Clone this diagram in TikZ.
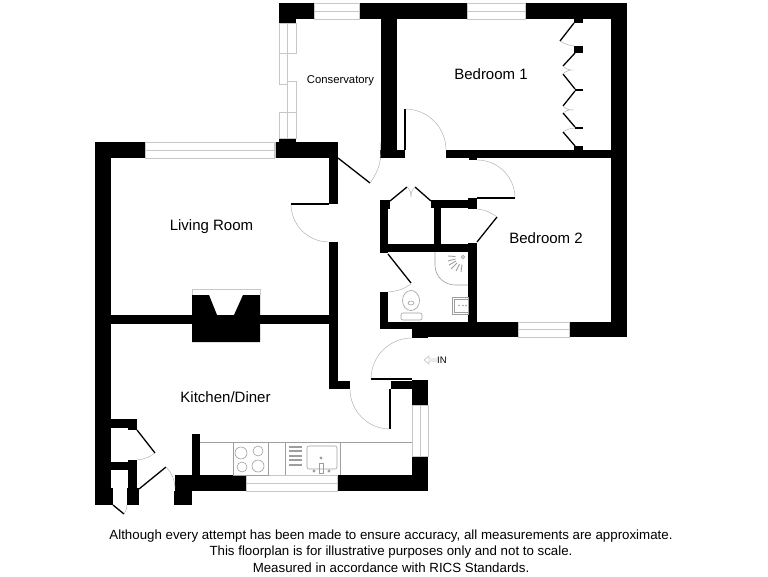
\documentclass[tikz,border=0pt]{standalone}
\usepackage{fontspec}
\setmainfont{Liberation Sans}
\tikzset{
  wall/.style={fill=black,draw=none},
  leaf/.style={line width=1.3pt,color=black},
  swing/.style={line width=0.4pt,color=black!35},
  glaze/.style={line width=0.6pt,color=black!22},
  fitting/.style={line width=0.6pt,color=black!38},
  room/.style={inner sep=0pt,font=\fontsize{15}{18}\selectfont},
  small/.style={inner sep=0pt,font=\fontsize{11.3}{14}\selectfont},
  notes/.style={inner sep=0pt,font=\fontsize{13.3}{16}\selectfont}
}
\begin{document}
\begin{tikzpicture}[x=1pt,y=-1pt]
\useasboundingbox (0,0) rectangle (768,576);
% walls, as x1/y1/x2/y2
\foreach \xa/\ya/\xb/\yb in {279/3/314/19,279/19/296/23,359.5/3/467/19,525/3/627/19,611/19/627/337,
  381/19/397/158,380/150/405/158,446/150/611/158,469/158/477/160,469/198/477/200,
  574/19/583/23,574/46/583/53,575/89/583/91,575/127/583/129,574/146/583/150,
  279/138/296/142,95/142/145/158,274/142/338/158,95/158/111/505,329/158/338/204,329/242/338/389,
  111/315/329/324,329/381/350/389,391/381/412/389,412/380/428/405,412/456/428/491,
  337/475/412/491,175/475/246/491,174/491/192/505,192/434/200/475,
  111/419/137/428,128/428/137/430,128/460/137/462,111/462/137/470,128/470/137/488,127/488/139/505,95/488/113/505,
  380/200/388/253,380/200/390/209,431/200/477/208,468/198/477/209,434/208/441/244,380/244/477/252,
  468/243/477/329,380/292/388/329,380/322/518/329,412/329/518/337,412/337/428/338,569/322/627/337}
  \fill[wall] (\xa,\yb) rectangle (\xb,\ya);
% chimney breast
\fill[wall] (192,295) -- (209,295) -- (217,315) -- (234,315) -- (243,295) -- (260,295) -- (260,342) -- (192,342) -- cycle;
\draw[glaze] (192,295) -- (192,289) -- (260,289) -- (260,295);
% windows, x1/y1/x2/y2
\foreach \xa/\ya/\xb/\yb in {314/3/359.5/19,467/3/525/19,145/142/274/158,246/475/337/491,518/322/569/337}{
  \draw[glaze] (\xa,\ya) rectangle (\xb,\yb);
  \draw[glaze] (\xa,{(\ya+\yb)/2}) -- (\xb,{(\ya+\yb)/2});
}
\draw[glaze] (412,405) rectangle (428,456);
\draw[glaze] (420,405) -- (420,456);
% conservatory side glazing
\draw[glaze] (279,23) rectangle (296,53);
\draw[glaze] (287,23) -- (287,53);
\draw[glaze] (279,53) rectangle (287,84);
\draw[glaze] (287,81) rectangle (296,112);
\draw[glaze] (279,112) rectangle (296,138);
\draw[glaze] (287,112) -- (287,138);
\draw[glaze] (275,142) -- (275,158);
% door leaves
\foreach \xa/\ya/\xb/\yb in {405/109/405/150,477/198/515/198,291/204/329/204,390/389/390/429,371/379/412/379,
  338/158/370/183,390/201/407/187,415/187/431/201,388/254/411/283,477/242/497/217,
  137/430/155/453,139/489/166/467,113/505/124/514,
  574/23/560/41,575/53/563/66,563/74/575/89,575/91/563/106,563/113/575/127,563/132/575/146}
  \draw[leaf] (\xa,\ya) -- (\xb,\yb);
% door swings
\draw[swing] (405,109) arc[start angle=-90,end angle=0,radius=41];
\draw[swing] (477,160) arc[start angle=-90,end angle=0,radius=38];
\draw[swing] (291,204) arc[start angle=180,end angle=90,radius=38];
\draw[swing] (350,389) arc[start angle=180,end angle=90,radius=40];
\draw[swing] (371,379) arc[start angle=180,end angle=270,radius=41];
\draw[swing] (370,183) to[bend right=22] (380,142);
\draw[swing] (497,217) to[bend right=15] (477,209);
\draw[swing] (411,284) to[bend left=15] (388,292);
\draw[swing] (155,453) to[bend left=15] (137,460);
\draw[swing] (166,467) to[bend left=20] (175,488);
\draw[swing] (124,514) to[bend right=15] (127,505);
\draw[swing] (407,187) to[bend left=25] (411,197);
\draw[swing] (415,187) to[bend right=25] (411,197);
\draw[swing] (560,41) to[bend right=12] (574,46);
\draw[swing] (563,66) to[bend right=25] (574,70) to[bend right=25] (563,74);
\draw[swing] (563,106) to[bend right=25] (574,110) to[bend right=25] (563,113);
\draw[swing] (563,132) to[bend left=15] (575,128);
% kitchen units
\draw[fitting] (200,442) -- (412,442);
\draw[fitting] (233,442) rectangle (268,475);
\draw[fitting] (285,442) -- (285,475);
\draw[fitting] (340,442) -- (340,475);
\foreach \xc/\yc/\rc in {241/453/6,258/451/5,242/467/5,258/466/6}
  \draw[fitting] (\xc,\yc) circle (\rc);
\foreach \yc in {447,451,456,460,465}
  \draw[fitting,line width=1.2pt] (289,\yc) -- (302,\yc);
\draw[fitting,rounded corners=2pt] (307,446) rectangle (337,469);
\draw[fitting] (319,463) rectangle (323,473);
\foreach \xc/\yc in {321/458,314/471,329/471}
  \fill[black!38] (\xc,\yc) circle (1.6);
% bathroom fittings
\draw[fitting] (435,252) -- (435,265) .. controls (435,278) and (446,285) .. (455,285) -- (468,285);
\foreach \xc/\yc in {448/256,448/261,449/265,451/269,456/271,461/272}
  \draw[fitting,line width=0.9pt] ({(\xc+463)/2},{(\yc+257)/2}) -- (\xc,\yc);
\draw[fitting] (463,257) circle (1.6);
\draw[fitting] (411,300.5) ellipse (8.5 and 10);
\draw[fitting] (411,303) ellipse (3 and 2);
\draw[fitting,rounded corners=2pt] (401,313) rectangle (422,320);
\draw[fitting] (452,297) rectangle (468,314);
\draw[fitting] (454,299) rectangle (468,312);
\foreach \xc in {459,463,466}
  \fill[black!38] (\xc,305.5) circle (0.9);
% entrance arrow
\draw[glaze,line width=0.7pt] (437,359) -- (429,359) -- (429,356) -- (424,360) -- (429,364) -- (429,361) -- (437,361);
% labels
\node[small] (conservatory) at (340.5,81) {Conservatory};
\node[room] (bedroomone) at (491,74.5) {Bedroom 1};
\node[room] (bedroomtwo) at (546,238.5) {Bedroom 2};
\node[room] (livingroom) at (211.5,227) {Living Room};
\node[room] (kitchen) at (225.5,397.5) {Kitchen/Diner};
\node[inner sep=0pt,anchor=west,font=\fontsize{9.5}{11}\selectfont] (entrance) at (437,360) {IN};
\node[notes] (noteone) at (391,536) {Although every attempt has been made to ensure accuracy, all measurements are approximate.};
\node[notes] (notetwo) at (391,552) {This floorplan is for illustrative purposes only and not to scale.};
\node[notes] (notethree) at (391,568) {Measured in accordance with RICS Standards.};
\end{tikzpicture}
\end{document}
